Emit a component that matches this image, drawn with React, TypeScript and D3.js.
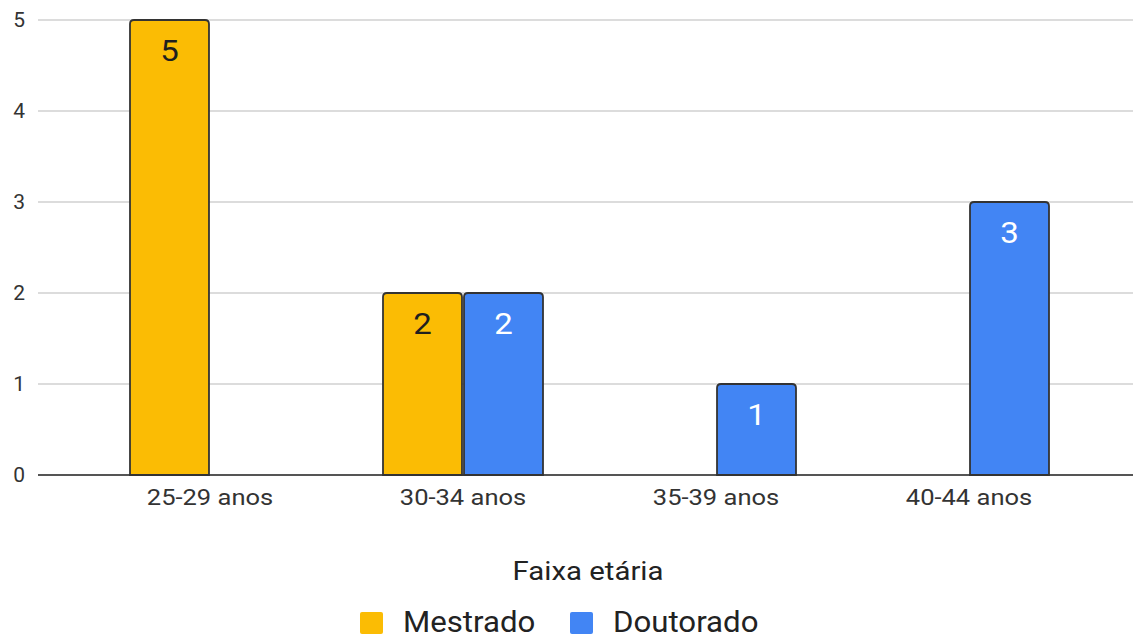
import React from "react";
import * as d3 from "d3";

// Age groups on the x axis
const categories = ["25-29 anos", "30-34 anos", "35-39 anos", "40-44 anos"];
// Series names shown in the legend
const seriesNames = ["Mestrado", "Doutorado"];
// Counts per age group (null = no bar)
const mestrado: (number | null)[] = [5, 2, null, null];
const doutorado: (number | null)[] = [null, 2, 1, 3];
const yTicks = [0, 1, 2, 3, 4, 5];

const colors = ["#FBBC04", "#4285F4"];
const labelColors = ["#1f1f1f", "#ffffff"];

const W = 1133;
const H = 639;
const FONT = "Roboto, Arial, sans-serif";

function topRoundedRect(x: number, y: number, w: number, h: number, r: number) {
  const rr = Math.min(r, h / 2, w / 2);
  return `M${x},${y + h}V${y + rr}Q${x},${y} ${x + rr},${y}H${x + w - rr}Q${x + w},${y} ${x + w},${y + rr}V${y + h}Z`;
}

// Text with a slight horizontal stretch, positioned at (x, y)
function WideText(props: {
  x: number;
  y: number;
  sx: number;
  size: number;
  anchor?: "start" | "middle" | "end";
  fill: string;
  children: React.ReactNode;
}) {
  const { x, y, sx, size, anchor = "start", fill, children } = props;
  return (
    <text
      transform={`translate(${x},${y}) scale(${sx},1)`}
      textAnchor={anchor}
      fontSize={size}
      fill={fill}
    >
      {children}
    </text>
  );
}

export default function App() {
  const x0 = d3
    .scaleBand<string>()
    .domain(categories)
    .range([83.5, 1095.5])
    .paddingInner(0.3676)
    .paddingOuter(0.1838);
  const x1 = d3
    .scaleBand<string>()
    .domain(seriesNames)
    .range([0, x0.bandwidth()])
    .paddingInner(0.025);
  const y = d3.scaleLinear().domain([0, 5]).range([475, 20]);

  const seriesValues = [mestrado, doutorado];

  return (
    <svg
      width={W}
      height={H}
      style={{ position: "absolute", left: 0, top: 0, background: "#fff" }}
      fontFamily={FONT}
    >
      {/* gridlines */}
      {yTicks.map((t) => (
        <line
          key={"g" + t}
          x1={38}
          x2={W}
          y1={y(t)}
          y2={y(t)}
          stroke={t === 0 ? "#555" : "#dcdcdc"}
          strokeWidth={2}
        />
      ))}
      {/* y tick labels */}
      {yTicks.map((t) => (
        <WideText key={"yl" + t} x={25} y={y(t) + 7} sx={1.05} size={20} anchor="end" fill="#333">
          {t}
        </WideText>
      ))}
      {/* bars */}
      {categories.map((c, ci) =>
        seriesNames.map((s, si) => {
          const v = seriesValues[si][ci];
          if (v == null) return null;
          const bx = (x0(c) ?? 0) + (x1(s) ?? 0);
          const bw = x1.bandwidth();
          const top = y(v);
          return (
            <g key={c + s}>
              <path
                d={topRoundedRect(bx, top, bw, y(0) - top, 4)}
                fill={colors[si]}
                stroke="#333"
                strokeWidth={1.8}
              />
              <WideText
                x={bx + bw / 2}
                y={top + 41}
                sx={1.1}
                size={30}
                anchor="middle"
                fill={labelColors[si]}
              >
                {v}
              </WideText>
            </g>
          );
        })
      )}
      {/* x tick labels */}
      {categories.map((c) => (
        <WideText
          key={"xl" + c}
          x={(x0(c) ?? 0) + x0.bandwidth() / 2}
          y={505}
          sx={1.16}
          size={22}
          anchor="middle"
          fill="#333"
        >
          {c}
        </WideText>
      ))}
      {/* axis title */}
      <WideText x={588} y={580} sx={1.13} size={26} anchor="middle" fill="#222">
        Faixa etária
      </WideText>
      {/* legend */}
      {seriesNames.map((s, i) => {
        const lx = i === 0 ? 360 : 570;
        return (
          <g key={"lg" + s}>
            <rect x={lx} y={612} width={23} height={22} rx={2} fill={colors[i]} />
            <WideText x={lx + 43} y={632} sx={1.04} size={30} fill="#222">
              {s}
            </WideText>
          </g>
        );
      })}
    </svg>
  );
}
